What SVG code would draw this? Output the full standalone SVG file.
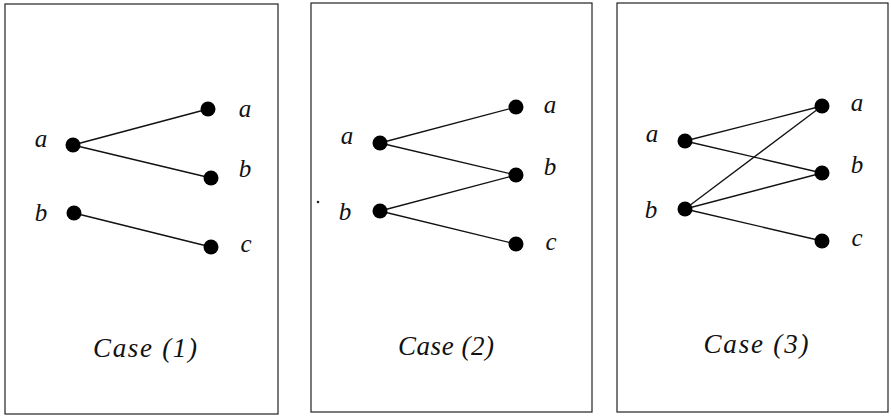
<svg xmlns="http://www.w3.org/2000/svg" width="891" height="416" viewBox="0 0 891 416">
<style>
.frame{fill:none;stroke:#222;stroke-width:1.2}
.edge{stroke:#111;stroke-width:1.3;fill:none}
.dot{fill:#000}
.lbl{font-family:"Liberation Serif","DejaVu Serif",serif;font-style:italic;font-size:25px;fill:#111;text-anchor:middle}
.cap{font-family:"Liberation Serif","DejaVu Serif",serif;font-style:italic;font-size:27px;fill:#111;text-anchor:middle}
</style>
<rect width="891" height="416" fill="#fff"/>
<g id="case1">
<rect class="frame" x="5" y="4" width="273" height="410"/>
<g id="connectors1">
<line class="edge" x1="73" y1="145" x2="208" y2="109"/>
<line class="edge" x1="73" y1="145" x2="211" y2="178"/>
<line class="edge" x1="74" y1="213" x2="211" y2="247"/>
</g>
<g id="c1-la"><circle class="dot" cx="73" cy="145" r="7.5"/><text class="lbl" x="41" y="147">a</text></g>
<g id="c1-lb"><circle class="dot" cx="74" cy="213" r="7.5"/><text class="lbl" x="41" y="221">b</text></g>
<g id="c1-ra"><circle class="dot" cx="208" cy="109" r="7.5"/><text class="lbl" x="245" y="117">a</text></g>
<g id="c1-rb"><circle class="dot" cx="211" cy="178" r="7.5"/><text class="lbl" x="245" y="177">b</text></g>
<g id="c1-rc"><circle class="dot" cx="211" cy="247" r="7.5"/><text class="lbl" x="246" y="252">c</text></g>
<text class="cap" x="145" y="357" textLength="104" lengthAdjust="spacing">Case (1)</text>
</g>
<g id="case2">
<rect class="frame" x="311" y="3" width="281" height="409"/>
<circle cx="318" cy="202" r="1.3" fill="#222"/>
<g id="connectors2">
<line class="edge" x1="380" y1="143" x2="516" y2="107"/>
<line class="edge" x1="380" y1="143" x2="516" y2="175"/>
<line class="edge" x1="380" y1="211" x2="516" y2="175"/>
<line class="edge" x1="380" y1="211" x2="516" y2="244"/>
</g>
<g id="c2-la"><circle class="dot" cx="380" cy="143" r="7.5"/><text class="lbl" x="347" y="144">a</text></g>
<g id="c2-lb"><circle class="dot" cx="380" cy="211" r="7.5"/><text class="lbl" x="345" y="220">b</text></g>
<g id="c2-ra"><circle class="dot" cx="516" cy="107" r="7.5"/><text class="lbl" x="550" y="113">a</text></g>
<g id="c2-rb"><circle class="dot" cx="516" cy="175" r="7.5"/><text class="lbl" x="550" y="175">b</text></g>
<g id="c2-rc"><circle class="dot" cx="516" cy="244" r="7.5"/><text class="lbl" x="551" y="250">c</text></g>
<text class="cap" x="446" y="355" textLength="96" lengthAdjust="spacing">Case (2)</text>
</g>
<g id="case3">
<rect class="frame" x="617" y="3" width="271" height="409"/>
<g id="connectors3">
<line class="edge" x1="685" y1="141" x2="822" y2="106"/>
<line class="edge" x1="685" y1="141" x2="822" y2="173"/>
<line class="edge" x1="685" y1="209" x2="822" y2="106"/>
<line class="edge" x1="685" y1="209" x2="822" y2="173"/>
<line class="edge" x1="685" y1="209" x2="822" y2="241"/>
</g>
<g id="c3-la"><circle class="dot" cx="685" cy="141" r="7.5"/><text class="lbl" x="652" y="142">a</text></g>
<g id="c3-lb"><circle class="dot" cx="685" cy="209" r="7.5"/><text class="lbl" x="651" y="218">b</text></g>
<g id="c3-ra"><circle class="dot" cx="822" cy="106" r="7.5"/><text class="lbl" x="857" y="111">a</text></g>
<g id="c3-rb"><circle class="dot" cx="822" cy="173" r="7.5"/><text class="lbl" x="857" y="173">b</text></g>
<g id="c3-rc"><circle class="dot" cx="822" cy="241" r="7.5"/><text class="lbl" x="857" y="246">c</text></g>
<text class="cap" x="756" y="353" textLength="105" lengthAdjust="spacing">Case (3)</text>
</g>
</svg>
